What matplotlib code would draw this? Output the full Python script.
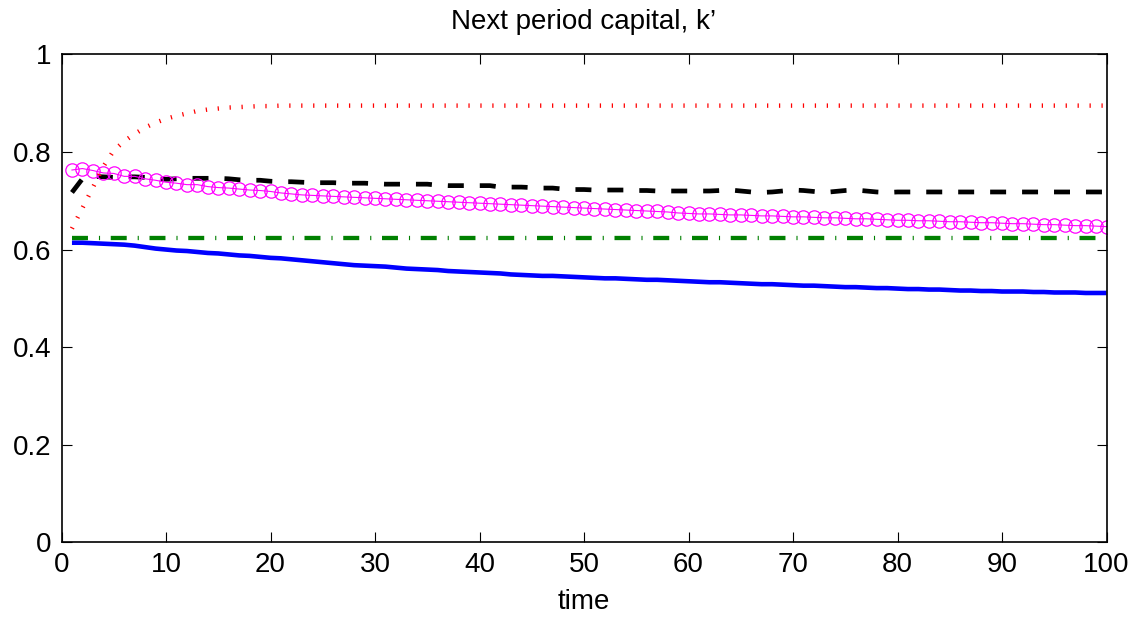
import numpy as np
import matplotlib
matplotlib.use('Agg')
import matplotlib.pyplot as plt

plt.rcParams['font.family'] = ['Liberation Sans', 'DejaVu Sans']
plt.rcParams['lines.scale_dashes'] = False

# time periods 1..100
time = np.arange(1, 101)

# blue solid line
k_blue = [
    0.614, 0.614, 0.613, 0.612, 0.611, 0.610, 0.608, 0.605, 0.602, 0.600,
    0.598, 0.597, 0.595, 0.593, 0.592, 0.590, 0.588, 0.587, 0.585, 0.583,
    0.582, 0.580, 0.578, 0.576, 0.574, 0.572, 0.570, 0.568, 0.567, 0.566,
    0.565, 0.563, 0.561, 0.560, 0.559, 0.558, 0.556, 0.555, 0.554, 0.553,
    0.552, 0.551, 0.549, 0.548, 0.547, 0.546, 0.546, 0.545, 0.544, 0.543,
    0.542, 0.541, 0.541, 0.540, 0.539, 0.538, 0.538, 0.537, 0.536, 0.535,
    0.534, 0.533, 0.533, 0.532, 0.531, 0.530, 0.529, 0.529, 0.528, 0.527,
    0.526, 0.526, 0.525, 0.524, 0.523, 0.523, 0.522, 0.521, 0.521, 0.520,
    0.519, 0.519, 0.518, 0.518, 0.517, 0.516, 0.516, 0.515, 0.515, 0.514,
    0.514, 0.514, 0.513, 0.513, 0.512, 0.512, 0.512, 0.511, 0.511, 0.511,
]

# green dash-dot line (constant)
k_green = [0.623] * 100

# black dashed line
k_black = [
    0.717, 0.745, 0.750, 0.749, 0.748, 0.749, 0.749, 0.748, 0.745, 0.744,
    0.745, 0.746, 0.746, 0.746, 0.746, 0.745, 0.743, 0.742, 0.742, 0.740,
    0.739, 0.739, 0.738, 0.737, 0.737, 0.737, 0.736, 0.736, 0.736, 0.735,
    0.734, 0.734, 0.734, 0.734, 0.734, 0.732, 0.731, 0.731, 0.731, 0.731,
    0.731, 0.728, 0.728, 0.728, 0.727, 0.726, 0.726, 0.724, 0.723, 0.723,
    0.722, 0.722, 0.722, 0.722, 0.721, 0.721, 0.720, 0.720, 0.720, 0.720,
    0.720, 0.720, 0.721, 0.722, 0.720, 0.718, 0.717, 0.718, 0.720, 0.722,
    0.721, 0.719, 0.717, 0.719, 0.721, 0.722, 0.720, 0.718, 0.717, 0.718,
    0.718, 0.718, 0.718, 0.718, 0.718, 0.718, 0.718, 0.718, 0.718, 0.718,
    0.718, 0.718, 0.718, 0.718, 0.718, 0.718, 0.718, 0.718, 0.718, 0.718,
]

# magenta line with circles
k_magenta = [
    0.763, 0.766, 0.762, 0.757, 0.756, 0.750, 0.750, 0.745, 0.742, 0.738,
    0.736, 0.733, 0.733, 0.729, 0.727, 0.726, 0.724, 0.722, 0.721, 0.719,
    0.716, 0.714, 0.712, 0.711, 0.710, 0.709, 0.708, 0.707, 0.706, 0.705,
    0.704, 0.703, 0.702, 0.701, 0.700, 0.699, 0.698, 0.697, 0.696, 0.695,
    0.694, 0.693, 0.692, 0.691, 0.690, 0.689, 0.688, 0.687, 0.686, 0.685,
    0.684, 0.683, 0.682, 0.681, 0.680, 0.679, 0.678, 0.677, 0.675, 0.674,
    0.673, 0.673, 0.672, 0.671, 0.671, 0.670, 0.669, 0.669, 0.668, 0.667,
    0.667, 0.666, 0.665, 0.665, 0.664, 0.663, 0.663, 0.662, 0.661, 0.660,
    0.660, 0.659, 0.659, 0.658, 0.657, 0.657, 0.656, 0.655, 0.655, 0.654,
    0.653, 0.653, 0.652, 0.651, 0.651, 0.650, 0.649, 0.649, 0.648, 0.647,
]

# red dotted line
k_red = [
    0.643, 0.685, 0.727, 0.770, 0.803, 0.822, 0.837, 0.850, 0.860, 0.868,
    0.874, 0.879, 0.884, 0.887, 0.889, 0.891, 0.892, 0.893, 0.894, 0.894,
] + [0.895] * 80

x_ticks = np.arange(0, 101, 10)
y_ticks = [0, 0.2, 0.4, 0.6, 0.8, 1]
y_tick_labels = ['0', '0.2', '0.4', '0.6', '0.8', '1']

fig = plt.figure(figsize=(11.39, 6.2), dpi=100)
ax = fig.add_axes([0.054, 0.1253, 0.9175, 0.787])

ax.plot(time, k_blue, color='blue', lw=3.3, solid_capstyle='butt')
ax.plot(time, k_green, color='green', lw=3.1, dashes=(11.5, 7.9, 0.8, 7.7))
ax.plot(time, k_black, color='black', lw=3.4, dashes=(11.5, 11.5))
ax.plot(time, k_magenta, color='magenta', lw=0.8, marker='o', ms=9.6,
        mfc='none', mec='magenta', mew=0.9)
ax.plot(time, k_red, color='red', lw=3.2, dashes=(0.9, 7.7))

ax.set_xlim(0, 100)
ax.set_ylim(0, 1)
ax.set_xticks(x_ticks)
ax.set_yticks(y_ticks)
ax.set_yticklabels(y_tick_labels)
ax.tick_params(direction='in', length=7, width=0.8, labelsize=20,
               top=True, right=True)
ax.tick_params(axis='y', pad=7)
ax.tick_params(axis='x', pad=7)
for s in ax.spines.values():
    s.set_linewidth(1.2)

ax.set_title('Next period capital, k\u2019', fontsize=20, pad=18)
ax.set_xlabel('time', fontsize=20, labelpad=8)

fig.savefig('out.png', dpi=100)
